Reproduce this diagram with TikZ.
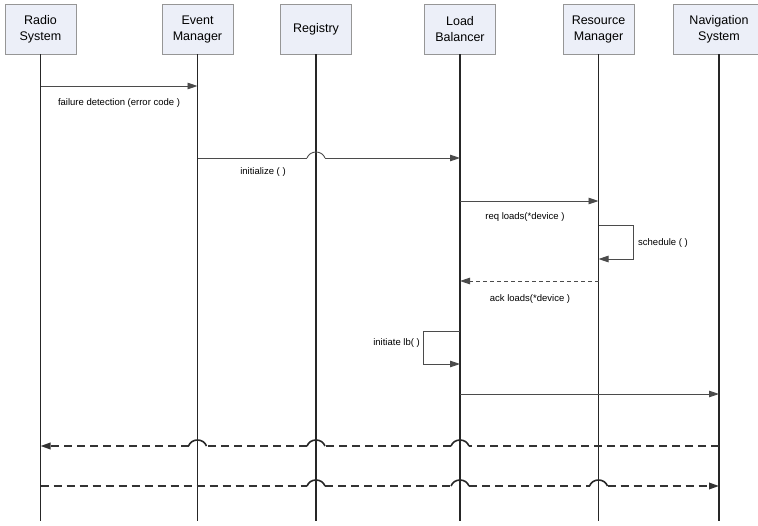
\documentclass[tikz,border=0pt]{standalone}
\usepackage{fontspec}
\setmainfont{Liberation Sans}
\usetikzlibrary{arrows.meta,calc}
\definecolor{boxfill}{RGB}{236,239,248}
\definecolor{boxline}{RGB}{150,150,150}
\definecolor{msgline}{RGB}{75,75,75}

% leave a gap at a lifeline, going right / going left
\newcommand{\gapr}[2]{-- ($(#1 |- 0,#2)+(-9,0)$) ($(#1 |- 0,#2)+(9,0)$)}
\newcommand{\gapl}[2]{-- ($(#1 |- 0,#2)+(9,0)$) ($(#1 |- 0,#2)+(-9,0)$)}
% the small jump drawn over that gap
\newcommand{\hop}[3][]{\draw[#1] ($(#2 |- 0,#3)+(-9,0)$) .. controls +(3,-8) and +(-3,-8) .. ($(#2 |- 0,#3)+(9,0)$);}

\begin{document}
\begin{tikzpicture}[x=1pt, y=-1pt, >={Triangle[length=10pt,width=6.5pt]},
    actor/.style={draw=boxline, fill=boxfill, minimum width=71pt, minimum height=50pt,
      inner sep=0pt, align=center, font=\fontsize{12.5}{16}\selectfont},
    life/.style={line width=1.4pt, draw=black!85},
    msg/.style={line width=0.9pt, draw=msgline},
    ret/.style={msg, dash pattern=on 4pt off 3pt},
    bus/.style={line width=1.8pt, draw=black!80, dash pattern=on 8pt off 5pt},
    jump/.style={line width=1.6pt, draw=black!85},
    lbl/.style={font=\fontsize{9.5}{11}\selectfont, inner sep=1pt}]
  \useasboundingbox (0,0) rectangle (758,525);

  % participants
  \node[actor] (rs)  at (40.5,29)  {Radio\\System};
  \node[actor] (em)  at (197.5,29) {Event\\Manager};
  \node[actor] (reg) at (316,29)   {Registry};
  \node[actor] (lb)  at (460,29)   {Load\\Balancer};
  \node[actor] (rm)  at (598.5,29) {Resource\\Manager};
  \node[actor, minimum width=92pt] (ns) at (719,29) {Navigation\\System};

  \foreach \p in {rs,em,reg,lb,rm,ns}
    \draw[life] (\p.south) -- (\p |- 0,521);

  % messages
  \draw[msg,->] (rs |- 0,86) -- (em |- 0,86);
  \node[lbl] (l1) at (119,103) {failure detection (error code )};

  \draw[msg,->] (em |- 0,158) \gapr{reg}{158} -- (lb |- 0,158);
  \hop[msg]{reg}{158}
  \node[lbl] (l2) at (263,172) {initialize ( )};

  \draw[msg,->] (lb |- 0,201) -- (rm |- 0,201);
  \node[lbl] (l3) at (525,217) {req loads(*device )};

  \draw[msg,->] (rm |- 0,225) -- ++(35,0) |- (rm |- 0,259);
  \node[lbl, anchor=west] (l4) at (637,243) {schedule ( )};

  \draw[ret,->] (rm |- 0,281) -- (lb |- 0,281);
  \node[lbl] (l5) at (530,299) {ack loads(*device )};

  \draw[msg,->] (lb |- 0,331) -- ++(-37,0) |- (lb |- 0,364);
  \node[lbl, anchor=east] (l6) at (421,343) {initiate lb( )};

  \draw[msg,->] (lb |- 0,394) -- (ns |- 0,394);

  \draw[bus,->] (ns |- 0,446) \gapl{lb}{446} \gapl{reg}{446} \gapl{em}{446} -- (rs |- 0,446);
  \foreach \p in {em,reg,lb} {\hop[jump]{\p}{446}}

  \draw[bus,->] (rs |- 0,486) \gapr{reg}{486} \gapr{lb}{486} \gapr{rm}{486} -- (ns |- 0,486);
  \foreach \p in {reg,lb,rm} {\hop[jump]{\p}{486}}
\end{tikzpicture}
\end{document}
